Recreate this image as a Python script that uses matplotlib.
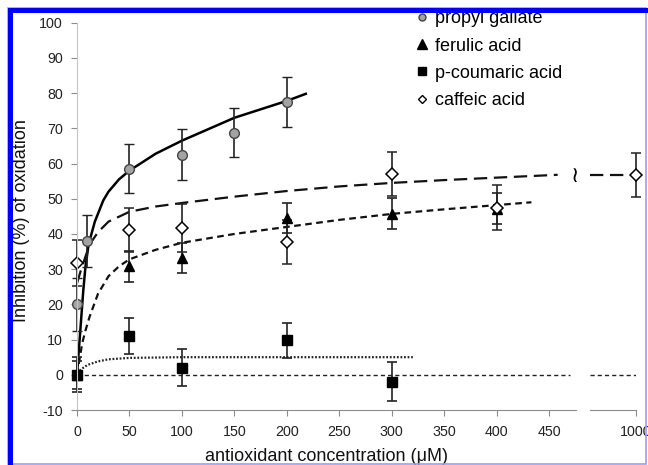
import matplotlib
matplotlib.use("Agg")
import matplotlib.pyplot as plt
from matplotlib.patches import Rectangle
from matplotlib.lines import Line2D

plt.rcParams['font.family'] = ['Liberation Sans', 'DejaVu Sans']
plt.rcParams['axes.unicode_minus'] = False

# measured points (x in uM, y = inhibition %, err = +/-)
pg_x = [0, 10, 50, 100, 150, 200]
pg_y = [20, 38, 58.5, 62.5, 68.8, 77.5]
pg_err = [7.5, 7.5, 7, 7.2, 7, 7.2]

fa_x = [0, 50, 100, 200, 300, 400]
fa_y = [0, 30.8, 33.2, 44.5, 45.8, 47.2]
fa_err = [5, 4.5, 4.3, 4.3, 4.5, 4.5]

pc_x = [0, 50, 100, 200, 300]
pc_y = [0, 11, 2, 9.8, -2]
pc_err = [4, 5.2, 5.2, 5, 5.5]

ca_x = [0, 50, 100, 200, 300, 400, 1000]
ca_y = [31.8, 41.2, 41.7, 37.7, 57.1, 47.5, 56.8]
ca_err = [6.5, 6.2, 6.9, 6.2, 6.2, 6.3, 6.3]

# fitted curves
pg_fit_x = [0, 2, 4, 6, 8, 11, 17, 25, 30, 40, 50, 75, 100, 150, 200, 218]
pg_fit_y = [0, 8, 16, 24, 30.5, 37, 43.5, 49.5, 52, 55.5, 58, 62.8, 66.5, 73, 77.8, 79.8]

fa_fit_x = [0, 3, 5, 8, 12, 20, 30, 40, 50, 75, 100, 150, 200, 250, 300, 350, 400, 433]
fa_fit_y = [0, 5.5, 9, 12.5, 16.5, 23, 28, 30.8, 32.8, 35.5, 37.5, 40, 42, 44, 45.7, 47, 48.2, 49]

pc_fit_x = [0, 5, 10, 20, 30, 50, 100, 200, 320]
pc_fit_y = [0.5, 1.8, 2.8, 3.8, 4.4, 4.8, 5, 5, 5]

ca_fit_x = [0, 4, 8, 12, 20, 30, 50, 75, 100, 150, 200, 250, 300, 350, 400, 458]
ca_fit_y = [26, 30, 33.5, 37, 40.5, 43.5, 46.3, 47.8, 48.8, 50.6, 52.2, 53.5, 54.5, 55.3, 56, 56.8]
ca_fit2_x = [956, 1000]
ca_fit2_y = [56.8, 56.8]

zero_x = [0, 470]
zero2_x = [956, 1000]
zero_y = [0, 0]

labels = ['propyl gallate', 'ferulic acid', 'p-coumaric acid', 'caffeic acid']

W, H = 648, 465
fig = plt.figure(figsize=(W / 100, H / 100), dpi=100)
fig.patch.set_facecolor('white')

x0, x1 = 77, 575.5
y0, y1 = 410, 22.7
ax = fig.add_axes([x0 / W, 1 - y0 / H, (x1 - x0) / W, (y0 - y1) / H])
ax2 = fig.add_axes([590 / W, 1 - y0 / H, 46 / W, (y0 - y1) / H])

ax.set_xlim(0, 475)
ax.set_ylim(-10, 100)
ax2.set_xlim(956, 1000)
ax2.set_ylim(-10, 100)

for a in (ax, ax2):
    a.patch.set_alpha(0)
    a.spines['top'].set_visible(False)
    a.spines['right'].set_visible(False)
    a.spines['bottom'].set_color('#8c8c8c')
    a.spines['left'].set_color('#c4c4c4')
    a.tick_params(direction='out', length=4, width=0.8, colors='#8c8c8c',
                  labelcolor='#222222', labelsize=10.3)
    a.tick_params(axis='x', pad=7)
    a.tick_params(axis='y', pad=6)
ax2.spines['left'].set_visible(False)
ax2.set_yticks([])
ax2.set_xticks([1000])

ax.set_xticks(range(0, 451, 50))
ax.set_yticks(range(-10, 101, 10))

# reference and fit lines
ax.plot(zero_x, zero_y, color='#222222', lw=1.0, dashes=(3, 2.2))
ax2.plot(zero2_x, zero_y, color='#222222', lw=1.0, dashes=(3, 2.2))
ax.plot(pg_fit_x, pg_fit_y, color='black', lw=1.8)
ax.plot(fa_fit_x, fa_fit_y, color='#111111', lw=1.6, dashes=(3, 2))
ax.plot(pc_fit_x, pc_fit_y, color='#222222', lw=1.6, dashes=(0.8, 0.8))
ax.plot(ca_fit_x, ca_fit_y, color='#111111', lw=1.6, dashes=(6, 3))
ax2.plot(ca_fit2_x, ca_fit2_y, color='#111111', lw=1.6, dashes=(6, 3))
ax.text(474, 56.5, '≀', family='DejaVu Sans', fontsize=16, ha='center', va='center')

eb = dict(ecolor='#222222', elinewidth=1.2, capsize=3.5, capthick=1.2, ls='none', clip_on=False)
ax.errorbar(pg_x, pg_y, yerr=pg_err, marker='o', ms=7, mfc='#a3a3a3', mec='#444444', mew=1.0, **eb)
ax.errorbar(fa_x, fa_y, yerr=fa_err, marker='^', ms=7.5, mfc='black', mec='black', **eb)
ax.errorbar(pc_x, pc_y, yerr=pc_err, marker='s', ms=7, mfc='black', mec='black', **eb)
ax.errorbar(ca_x[:-1], ca_y[:-1], yerr=ca_err[:-1], marker='D', ms=5.8, mfc='white', mec='black', mew=1.1, **eb)
ax2.errorbar(ca_x[-1:], ca_y[-1:], yerr=ca_err[-1:], marker='D', ms=5.8, mfc='white', mec='black', mew=1.1, **eb)

ax.set_xlabel('antioxidant concentration (μM)', fontsize=13, color='#111111')
ax.xaxis.set_label_coords(0.5, -0.098)
ax.set_ylabel('Inhibition (%) of oxidation', fontsize=13, color='#111111')
ax.yaxis.set_label_coords(-0.094, 0.49)

handles = [
    Line2D([], [], ls='none', marker='o', ms=5, mfc='#a3a3a3', mec='#444444'),
    Line2D([], [], ls='none', marker='^', ms=6.5, mfc='black', mec='black'),
    Line2D([], [], ls='none', marker='s', ms=5.5, mfc='black', mec='black'),
    Line2D([], [], ls='none', marker='D', ms=4.5, mfc='white', mec='black'),
]
ax.legend(handles, labels, loc='upper left', bbox_to_anchor=(415 / W, 1 - 10.5 / H),
          bbox_transform=fig.transFigure, frameon=False, fontsize=13,
          handlelength=0.8, handletextpad=0.3, labelspacing=0.56,
          borderpad=0, borderaxespad=0)

# blue frame of the figure
fig.add_artist(Rectangle((8 / W, 1 / H), 638 / W, 1 - 9 / H, transform=fig.transFigure,
                         fill=False, ec='#9a9aff', lw=1.2, zorder=9))
fig.add_artist(Rectangle((8 / W, 1 - 13 / H), 640 / W, 5 / H, transform=fig.transFigure,
                         fc='#0000ff', ec='none', zorder=10))
fig.add_artist(Rectangle((8 / W, 0), 4.7 / W, 1 - 8 / H, transform=fig.transFigure,
                         fc='#0000ff', ec='none', zorder=10))

fig.savefig('out.png', dpi=100)
